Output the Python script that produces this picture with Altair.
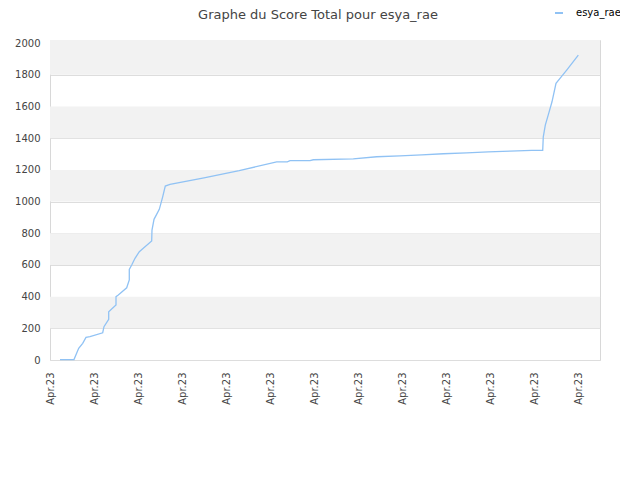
import altair as alt
import pandas as pd

# x positions in tick units (each tick labelled "Apr.23"), y = total score
xs = [0.227, 0.545, 0.652, 0.743, 0.818, 0.909, 1.198, 1.227, 1.334, 1.334,
      1.5, 1.5, 1.552, 1.743, 1.802, 1.802, 1.857, 1.932, 2.03, 2.12,
      2.311, 2.318, 2.364, 2.484, 2.561, 2.620, 2.727, 3.5, 4.3, 5.152,
      5.393, 5.455, 5.909, 5.984, 6.893, 7.425, 7.955, 8.448, 8.939, 9.470,
      9.961, 10.455, 10.948, 11.198, 11.211, 11.257, 11.334, 11.409, 11.5, 11.591,
      11.743, 12.007]
scores = [3, 3, 74, 105, 143, 147, 172, 210, 257, 305,
          347, 400, 410, 456, 505, 572, 600, 642, 684, 705,
          751, 820, 888, 951, 1030, 1098, 1109, 1150, 1195, 1251,
          1251, 1258, 1258, 1264, 1270, 1283, 1289, 1295, 1302, 1308,
          1314, 1319, 1323, 1323, 1409, 1483, 1557, 1630, 1746, 1778,
          1830, 1924]
series = ["esya_rae"] * len(xs)

band_lo = [200, 600, 1000, 1400, 1800]
band_hi = [400, 800, 1200, 1600, 2020]

df = pd.DataFrame({"x": xs, "score": scores, "joueur": series})
bands = pd.DataFrame({"lo": band_lo, "hi": band_hi})

xscale = alt.Scale(domain=[0, 12.5], nice=False, zero=False)
yscale = alt.Scale(domain=[0, 2020], nice=False)

yaxis = alt.Axis(values=list(range(0, 2001, 200)), ticks=False,
                 format="d", labelOverlap=False,
                 domain=False, grid=True, gridColor="#dddddd",
                 labelPadding=10, labelFont="DejaVu Sans",
                 labelFontSize=10, labelColor="#444")

band_layer = alt.Chart(bands).mark_rect(color="#f2f2f2").encode(
    y=alt.Y("lo:Q", scale=yscale, title=None, axis=yaxis),
    y2="hi:Q",
)

line = alt.Chart(df).mark_line(strokeWidth=1.3, interpolate="linear").encode(
    x=alt.X("x:Q", scale=xscale, title=None,
            axis=alt.Axis(values=list(range(13)), labelExpr="'Apr.23'",
                          labelAngle=-90, labelAlign="right", labelBaseline="middle",
                          labelPadding=12, ticks=False, domain=False, grid=False,
                          labelOverlap=False,
                          labelFont="DejaVu Sans", labelFontSize=10,
                          labelColor="#444")),
    y=alt.Y("score:Q", scale=yscale, title=None, axis=yaxis),
    color=alt.Color("joueur:N", scale=alt.Scale(range=["#90c2f4"]),
                    legend=alt.Legend(title=None, orient="none",
                                      legendX=504, legendY=-32,
                                      symbolType="stroke", symbolStrokeWidth=2,
                                      symbolSize=64, labelOffset=12,
                                      labelFont="DejaVu Sans", labelFontSize=10,
                                      labelColor="#000")),
)

chart = alt.layer(band_layer, line).properties(
    width=550, height=320,
    title=alt.TitleParams("Graphe du Score Total pour esya_rae",
                          font="DejaVu Sans", fontSize=13, fontWeight="normal",
                          color="#444", anchor="middle", dx=-7, offset=-14),
    autosize=alt.AutoSizeParams(type="none"),
    padding={"left": 42, "top": 32, "right": 20, "bottom": 100},
).configure_view(stroke="#d8d8d8", strokeWidth=1)

chart.save("out.html", embed_options={"renderer": "svg", "actions": False})
